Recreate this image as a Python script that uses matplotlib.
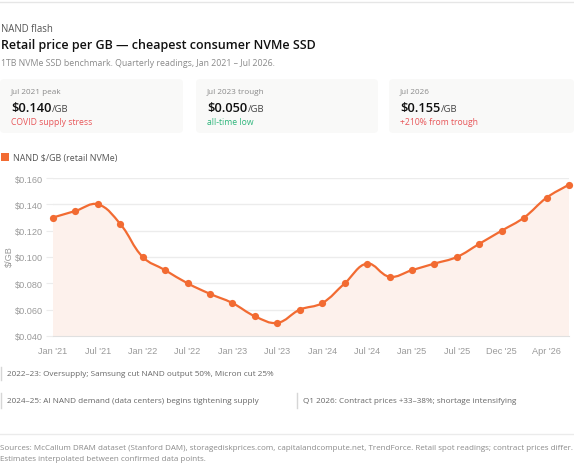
import matplotlib
matplotlib.use("Agg")
import matplotlib.pyplot as plt
from matplotlib.path import Path
from matplotlib.patches import PathPatch, FancyBboxPatch, Rectangle
import numpy as np

# ---------------- data ----------------
periods = ["Jan '21", "Apr '21", "Jul '21", "Oct '21", "Jan '22", "Apr '22", "Jul '22", "Oct '22",
           "Jan '23", "Apr '23", "Jul '23", "Oct '23", "Jan '24", "Apr '24", "Jul '24", "Oct '24",
           "Jan '25", "Apr '25", "Jul '25", "Oct '25", "Dec '25", "Feb '26", "Apr '26", "Jul '26"]
price_per_gb = [0.130, 0.135, 0.140, 0.125, 0.100, 0.090, 0.080, 0.072,
                0.065, 0.055, 0.050, 0.060, 0.065, 0.080, 0.095, 0.085,
                0.090, 0.095, 0.100, 0.110, 0.120, 0.130, 0.145, 0.155]
y_ticks = [0.040, 0.060, 0.080, 0.100, 0.120, 0.140, 0.160]

card_labels = ["Jul 2021 peak", "Jul 2023 trough", "Jul 2026"]
card_values = ["$0.140", "$0.050", "$0.155"]
card_notes = ["COVID supply stress", "all-time low", "+210% from trough"]
card_note_colors = ["#e8575a", "#2fb67c", "#e8575a"]

annotations = [
    "2022\u201323: Oversupply; Samsung cut NAND output 50%, Micron cut 25%",
    "2024\u201325: AI NAND demand (data centers) begins tightening supply",
    "Q1 2026: Contract prices +33\u201338%; shortage intensifying",
]
sources = [
    "Sources: McCallum DRAM dataset (Stanford DAM), storagediskprices.com, capitalandcompute.net, TrendForce. Retail spot readings; contract prices differ.",
    "Estimates interpolated between confirmed data points.",
]

# ---------------- figure ----------------
W, H = 574, 477
fig = plt.figure(figsize=(W / 100, H / 100), dpi=100)
fig.patch.set_facecolor("white")
UI = ["Open Sans", "DejaVu Sans"]
AX = ["Liberation Sans", "DejaVu Sans"]
ORANGE = "#f26b32"

def fx(px):
    return px / W

def fy(py):
    return 1 - py / H

# top border line
fig.add_artist(plt.Line2D([0, 1], [fy(3), fy(3)], color="#e6e6e6", lw=1))

fig.text(fx(1), fy(29), "NAND flash", family=UI, fontsize=6.9, color="#555555", va="center")
fig.text(fx(1), fy(46), "Retail price per GB \u2014 cheapest consumer NVMe SSD", family=UI,
         fontsize=9.0, color="#111111", va="center", weight="semibold")
fig.text(fx(1), fy(63), "1TB NVMe SSD benchmark. Quarterly readings, Jan 2021 \u2013 Jul 2026.",
         family=UI, fontsize=6.35, color="#8a8a8a", va="center")

# cards
card_x = [(0, 183), (196, 378), (389, 574)]
renderer = fig.canvas.get_renderer()
for (x0, x1), lab, val, note, nc in zip(card_x, card_labels, card_values, card_notes, card_note_colors):
    box = FancyBboxPatch((fx(x0), fy(134)), fx(x1 - x0), (134 - 80) / H,
                         boxstyle="round,pad=0,rounding_size=0.008",
                         transform=fig.transFigure, facecolor="#f9f9f8", edgecolor="none")
    fig.add_artist(box)
    fig.text(fx(x0 + 11), fy(92), lab, family=UI, fontsize=5.9, color="#8a8a8a", va="center")
    t = fig.text(fx(x0 + 11), fy(112), val, family=UI, fontsize=9.3, color="#111111",
                 va="baseline", weight="semibold")
    bb = t.get_window_extent(renderer)
    fig.text(bb.x1 / W + 0.001, fy(112), "/GB", family=UI, fontsize=6.8, color="#444444",
             va="baseline")
    fig.text(fx(x0 + 11), fy(123), note, family=UI, fontsize=6.2, color=nc, va="center")

# legend
fig.add_artist(Rectangle((fx(1), fy(162)), fx(8), 8 / H, transform=fig.transFigure,
                         facecolor=ORANGE, edgecolor="none"))
fig.text(fx(13), fy(158), "NAND $/GB (retail NVMe)", family=UI, fontsize=6.4, color="#555555",
         va="center")

# ---------------- chart ----------------
ax_left, ax_right, ax_top, ax_bot = 53, 569, 179, 337
ax = fig.add_axes([fx(ax_left), fy(ax_bot), fx(ax_right - ax_left), (ax_bot - ax_top) / H])
n = len(price_per_gb)
xs = np.arange(n)
ys = np.array(price_per_gb)
ymin, ymax = y_ticks[0], y_ticks[-1]
ax.set_xlim(0, n - 1)
ax.set_ylim(ymin, ymax)

# smooth curve like Chart.js (tension)
sx = (ax_right - ax_left) / (n - 1)
sy = (ax_bot - ax_top) / (ymax - ymin)
px = xs * sx
py = ys * sy
tension = 0.4
cp_prev = np.zeros((n, 2))
cp_next = np.zeros((n, 2))
for i in range(n):
    p1 = np.array([px[i], py[i]])
    p0 = np.array([px[i - 1], py[i - 1]]) if i > 0 else p1
    p2 = np.array([px[i + 1], py[i + 1]]) if i < n - 1 else p1
    d01 = np.hypot(*(p1 - p0))
    d12 = np.hypot(*(p2 - p1))
    tot = d01 + d12
    s01 = d01 / tot if tot else 0
    s12 = d12 / tot if tot else 0
    cp_prev[i] = p1 - tension * s01 * (p2 - p0)
    cp_next[i] = p1 + tension * s12 * (p2 - p0)
cp_prev[:, 0] /= sx; cp_prev[:, 1] /= sy
cp_next[:, 0] /= sx; cp_next[:, 1] /= sy

verts = [(xs[0], ys[0])]
codes = [Path.MOVETO]
for i in range(n - 1):
    verts += [tuple(cp_next[i]), tuple(cp_prev[i + 1]), (xs[i + 1], ys[i + 1])]
    codes += [Path.CURVE4] * 3
line_path = Path(verts, codes)
fill_path = Path(verts + [(xs[-1], ymin), (xs[0], ymin), (xs[0], ys[0])],
                 codes + [Path.LINETO, Path.LINETO, Path.CLOSEPOLY])
ax.add_patch(PathPatch(fill_path, facecolor="#fdf1ec", edgecolor="none", zorder=1))
ax.add_patch(PathPatch(line_path, facecolor="none", edgecolor=ORANGE, lw=1.6, zorder=3,
                       capstyle="round", joinstyle="round"))
ax.plot(xs, ys, "o", color=ORANGE, markersize=5.2, markeredgewidth=0, zorder=4, clip_on=False)

ax.set_yticks(y_ticks)
ax.set_yticklabels([f"${v:.3f}" for v in y_ticks], family=AX, fontsize=6.6, color="#9a9a9a")
ax.set_xticks(xs[::2])
ax.set_xticklabels(periods[::2], family=AX, fontsize=6.6, color="#9a9a9a")
ax.tick_params(axis="y", length=5, color="#ececec", pad=2)
ax.tick_params(axis="x", length=0, pad=7)
ax.grid(axis="y", color="#ececec", lw=1)
ax.set_axisbelow(True)
for s in ["top", "right", "left"]:
    ax.spines[s].set_visible(False)
ax.spines["bottom"].set_color("#e0e0e0")
ax.set_facecolor("none")
fig.text(fx(9), fy(257), "$/GB", family=AX, fontsize=6.6, color="#9a9a9a", rotation=90,
         va="center", ha="center")

# ---------------- annotations ----------------
def note(x, ytop, ybot, text):
    fig.add_artist(plt.Line2D([fx(x), fx(x)], [fy(ytop), fy(ybot)], color="#d6d6d6", lw=1))
    fig.text(fx(x + 6), fy((ytop + ybot) / 2), text, family=UI, fontsize=5.85, color="#666666",
             va="center")

note(1, 368, 381, annotations[0])
note(1, 394, 409, annotations[1])
note(297, 394, 409, annotations[2])

fig.add_artist(plt.Line2D([0, 1], [fy(435), fy(435)], color="#ebebeb", lw=1))
fig.text(fx(0), fy(448), sources[0], family=UI, fontsize=5.75, color="#8a8a8a", va="center")
fig.text(fx(0), fy(460), sources[1], family=UI, fontsize=5.75, color="#8a8a8a", va="center")

fig.savefig("out.png", dpi=100, facecolor="white")
